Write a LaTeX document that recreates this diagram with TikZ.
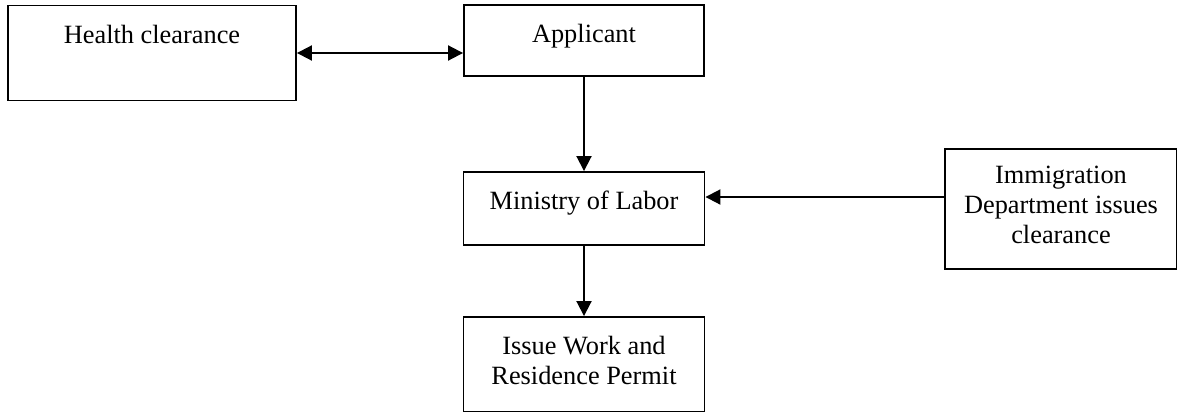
\documentclass[tikz,border=0pt]{standalone}
\usepackage{fontspec}
\setmainfont{Liberation Serif}
\usetikzlibrary{positioning,arrows.meta}

\tikzset{
  box/.style={draw, line width=1.1pt, inner sep=0pt},
  lbl/.style={anchor=north, inner sep=0pt, align=center, yshift=-0.4cm},
  arr/.style={line width=1.1pt, -{Triangle[length=0.3cm,width=0.3cm]}},
  darr/.style={line width=1.1pt, {Triangle[length=0.3cm,width=0.3cm]}-{Triangle[length=0.3cm,width=0.3cm]}}
}

\begin{document}
\begin{tikzpicture}[x=0.02cm, y=-0.02cm, font=\fontsize{15}{17.07}\selectfont]

\useasboundingbox (0,0) rectangle (1177,412);

% boxes
\node[box, minimum width=5.76cm, minimum height=1.9cm] (health) at (152,53) {};
\node[box, minimum width=4.8cm, minimum height=1.42cm] (applicant) at (584,40.5) {};
\node[box, minimum width=4.82cm, minimum height=1.46cm] (ministry) at (584,208.5) {};
\node[box, minimum width=4.64cm, minimum height=2.4cm] (immig) at (1061,209) {};
\node[box, minimum width=4.82cm, minimum height=1.9cm] (permit) at (584,364.5) {};

% texts
\node[lbl] (healthtxt) at (health.north) {Health clearance};
\node[lbl] (applicanttxt) at (applicant.north) {Applicant};
\node[lbl] (ministrytxt) at (ministry.north) {Ministry of Labor};
\node[lbl, yshift=0.04cm] (immigtxt) at (immig.north) {Immigration\\Department issues\\clearance};
\node[lbl] (permittxt) at (permit.north) {Issue Work and\\Residence Permit};

% arrows
\draw[darr] (health.east) -- (health.east -| applicant.west);
\draw[arr] (applicant.south) -- (applicant.south |- ministry.north);
\draw[arr] (ministry.south) -- (ministry.south |- permit.north);
\draw[arr] ([yshift=0.24cm]immig.west) -- ([yshift=0.24cm]immig.west -| ministry.east);

\end{tikzpicture}
\end{document}
